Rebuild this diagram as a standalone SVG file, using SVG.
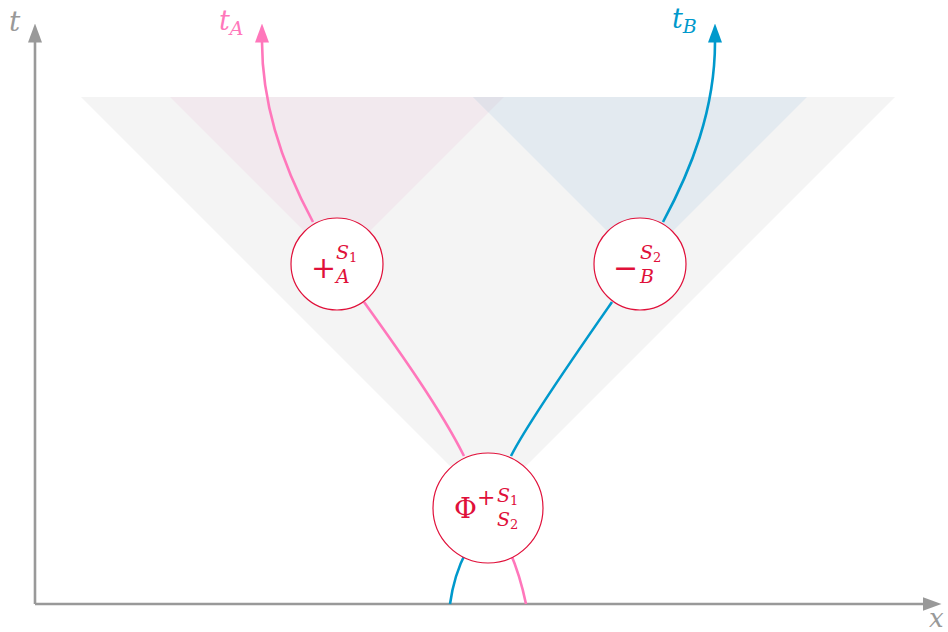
<svg xmlns="http://www.w3.org/2000/svg" width="948" height="632" viewBox="0 0 948 632">
<style>
.axis{stroke:#999;stroke-width:2.6;fill:none}
.pink{stroke:#ff77bb;stroke-width:2.6;fill:none}
.blue{stroke:#0099cc;stroke-width:2.6;fill:none}
.node{fill:#fff;stroke:#e0103a;stroke-width:1.2}
text{font-family:"DejaVu Serif",serif}
.lbl{fill:#e0103a}
.it{font-style:italic}
</style>
<defs>
<marker id="ag" markerWidth="19" markerHeight="14" refX="0.5" refY="7" orient="auto" markerUnits="userSpaceOnUse" viewBox="0 0 19 14"><path d="M0,0 L19,7 L0,14 z" fill="#999"/></marker>
<marker id="ap" markerWidth="19" markerHeight="14" refX="0.5" refY="7" orient="auto" markerUnits="userSpaceOnUse" viewBox="0 0 19 14"><path d="M0,0 L19,7 L0,14 z" fill="#ff77bb"/></marker>
<marker id="ab" markerWidth="19" markerHeight="14" refX="0.5" refY="7" orient="auto" markerUnits="userSpaceOnUse" viewBox="0 0 19 14"><path d="M0,0 L19,7 L0,14 z" fill="#0099cc"/></marker>
</defs>
<g id="cones">
<polygon points="81,97 895,97 488,504" fill="#f4f4f4"/>
<polygon points="170,97 504,97 337,264" fill="#f2e9ee"/>
<polygon points="473,97 807,97 640,264" fill="#e3eaf0"/>
<polygon points="473,97 504,97 488.5,112.5" fill="#e1e1e9"/>
</g>
<g id="axes">
<line class="axis" x1="35" y1="604" x2="35" y2="42" marker-end="url(#ag)"/>
<line class="axis" x1="35" y1="604" x2="923" y2="604" marker-end="url(#ag)"/>
<text x="9" y="31" font-style="italic" font-size="28" fill="#999">t</text>
<text x="929" y="627" font-style="italic" font-size="26" fill="#999">x</text>
</g>
<g id="connectors">
<path class="pink" d="M526,604 Q520,575 510,552 M364,302 C400,352 441,410 464,456 M313,222 C285,170 262,110 262,42" marker-end="url(#ap)"/>
<path class="blue" d="M450,604 Q454,575 466,552 M612,302 C589,335 528,422 511,456 M663,222 C691,170 715,110 715,42" marker-end="url(#ab)"/>
<text x="219" y="30" font-style="italic" font-size="27" fill="#ff77bb">t<tspan font-size="19" dy="5">A</tspan></text>
<text x="672" y="28" font-style="italic" font-size="27" fill="#0099cc">t<tspan font-size="19" dy="5">B</tspan></text>
</g>
<g id="nodeA">
<circle class="node" cx="337" cy="264" r="46"/>
<text class="lbl" x="311" y="278" font-size="30">+</text>
<text class="lbl it" x="336" y="259" font-size="19">S<tspan font-style="normal" font-size="13" dy="3">1</tspan></text>
<text class="lbl it" x="336" y="283" font-size="19">A</text>
</g>
<g id="nodeB">
<circle class="node" cx="640" cy="264" r="46"/>
<text class="lbl" x="613" y="278" font-size="30">−</text>
<text class="lbl it" x="640" y="259" font-size="19">S<tspan font-style="normal" font-size="13" dy="3">2</tspan></text>
<text class="lbl it" x="640" y="283" font-size="19">B</text>
</g>
<g id="nodePhi">
<circle class="node" cx="488" cy="508" r="55"/>
<text class="lbl" x="454" y="518" font-size="28">Φ</text>
<text class="lbl" x="477" y="505" font-size="22">+</text>
<text class="lbl it" x="497" y="502" font-size="19">S<tspan font-style="normal" font-size="13" dy="3">1</tspan></text>
<text class="lbl it" x="497" y="526" font-size="19">S<tspan font-style="normal" font-size="13" dy="3">2</tspan></text>
</g>
</svg>
